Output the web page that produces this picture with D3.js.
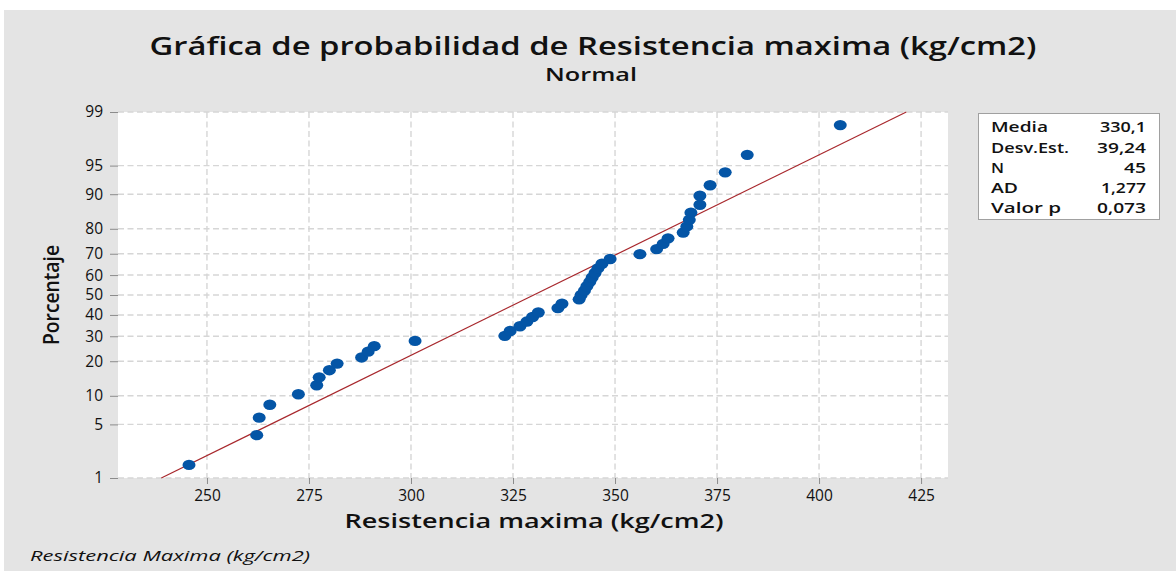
<!DOCTYPE html>
<html><head><meta charset="utf-8">
<script src="https://cdn.jsdelivr.net/npm/d3@7"></script>
<style>html,body{margin:0;padding:0;background:#fff;} svg{display:block;}</style>
</head><body>
<svg id="chart" width="1176" height="571"></svg>
<script>
// ---------- data ----------
const values = [245.6, 262.2, 262.8, 265.4, 272.4, 276.9, 277.5, 280.0, 281.9, 287.9,
  289.5, 291.0, 301.0, 323.0, 324.3, 326.7, 328.4, 329.8, 331.2, 336.0,
  337.0, 341.2, 341.7, 342.5, 343.1, 343.8, 344.4, 345.1, 345.8, 346.8,
  348.8, 356.1, 360.2, 361.8, 363.0, 366.7, 367.6, 368.2, 368.6, 370.8,
  370.8, 373.3, 377.0, 382.4, 405.2];
const percents = [1.54, 3.74, 5.95, 8.15, 10.35, 12.56, 14.76, 16.96, 19.16, 21.37,
  23.57, 25.77, 27.97, 30.18, 32.38, 34.58, 36.78, 38.99, 41.19, 43.39,
  45.59, 47.80, 50.00, 52.20, 54.41, 56.61, 58.81, 61.01, 63.22, 65.42,
  67.62, 69.82, 72.03, 74.23, 76.43, 78.63, 80.84, 83.04, 85.24, 87.44,
  89.65, 91.85, 94.05, 96.26, 98.46];
const yTickPercents = [1, 5, 10, 20, 30, 40, 50, 60, 70, 80, 90, 95, 99];
const xTicks = [250, 275, 300, 325, 350, 375, 400, 425];
const xDomain = [228.2, 431.6];
const statLabels = ["Media", "Desv.Est.", "N", "AD", "Valor p"];
const statValues = ["330,1", "39,24", "45", "1,277", "0,073"];
const fitMean = 330.1, fitSD = 39.24;
const fitPercents = [1, 99];

// inverse standard normal CDF (Acklam)
function probit(p) {
  const a = [-3.969683028665376e+01, 2.209460984245205e+02, -2.759285104469687e+02, 1.383577518672690e+02, -3.066479806614716e+01, 2.506628277459239e+00];
  const b = [-5.447609879822406e+01, 1.615858368580409e+02, -1.556989798598866e+02, 6.680131188771972e+01, -1.328068155288572e+01];
  const c = [-7.784894002430293e-03, -3.223964580411365e-01, -2.400758277161838e+00, -2.549732539343734e+00, 4.374664141464968e+00, 2.938163982698783e+00];
  const d = [7.784695709041462e-03, 3.224671290700398e-01, 2.445134137142996e+00, 3.754408661907416e+00];
  const pl = 0.02425, ph = 1 - pl;
  let q, r;
  if (p < pl) { q = Math.sqrt(-2 * Math.log(p));
    return (((((c[0]*q+c[1])*q+c[2])*q+c[3])*q+c[4])*q+c[5]) / ((((d[0]*q+d[1])*q+d[2])*q+d[3])*q+1); }
  if (p > ph) { q = Math.sqrt(-2 * Math.log(1 - p));
    return -(((((c[0]*q+c[1])*q+c[2])*q+c[3])*q+c[4])*q+c[5]) / ((((d[0]*q+d[1])*q+d[2])*q+d[3])*q+1); }
  q = p - 0.5; r = q * q;
  return (((((a[0]*r+a[1])*r+a[2])*r+a[3])*r+a[4])*r+a[5])*q / (((((b[0]*r+b[1])*r+b[2])*r+b[3])*r+b[4])*r+1);
}

// ---------- layout ----------
const svg = d3.select("#chart");
const FONT = "'Open Sans', 'Noto Sans', sans-serif";
const plot = { left: 118, right: 948, top: 112, bottom: 478 };

svg.append("rect").attr("x", 4).attr("y", 10).attr("width", 1172).attr("height", 561).attr("fill", "#e4e4e4");

const x = d3.scaleLinear().domain(xDomain).range([plot.left, plot.right]);
const zMax = probit(0.99);
const yz = d3.scaleLinear().domain([-zMax, zMax]).range([plot.bottom, plot.top]);
const y = p => yz(probit(p / 100));

svg.append("rect").attr("x", plot.left).attr("y", plot.top)
  .attr("width", plot.right - plot.left).attr("height", plot.bottom - plot.top).attr("fill", "#ffffff");

// grid
const grid = svg.append("g").attr("stroke", "#d6d6d6").attr("stroke-width", 1.4).attr("stroke-dasharray", "6,3.5");
grid.selectAll("line.h").data(yTickPercents).join("line")
  .attr("x1", plot.left).attr("x2", plot.right).attr("y1", d => y(d)).attr("y2", d => y(d));
grid.selectAll("line.v").data(xTicks).join("line").attr("class", "v")
  .attr("x1", d => x(d)).attr("x2", d => x(d)).attr("y1", plot.top).attr("y2", plot.bottom);

// axes
const xAxis = svg.append("g").attr("transform", `translate(0,${plot.bottom})`)
  .call(d3.axisBottom(x).tickValues(xTicks).tickSize(6).tickPadding(6));
const yAxis = svg.append("g").attr("transform", `translate(${plot.left},0)`)
  .call(d3.axisLeft(yz).tickValues(yTickPercents.map(p => probit(p / 100)))
    .tickFormat((d, i) => yTickPercents[i]).tickSize(8).tickPadding(7));
[xAxis, yAxis].forEach(a => {
  a.select(".domain").remove();
  a.selectAll(".tick line").attr("stroke", "#8c8c8c");
  a.selectAll(".tick text").attr("fill", "#111").style("font-family", FONT)
    .style("font-size", "15.5px").style("font-weight", 500);
});

// fitted line
const fitLine = fitPercents.map(p => ({ v: fitMean + fitSD * probit(p / 100), p }));
svg.append("path").datum(fitLine)
  .attr("d", d3.line().x(d => x(d.v)).y(d => y(d.p)))
  .attr("stroke", "#a8282d").attr("stroke-width", 1.2).attr("fill", "none");

// points
svg.append("g").selectAll("ellipse").data(values).join("ellipse")
  .attr("cx", d => x(d)).attr("cy", (d, i) => y(percents[i]))
  .attr("rx", 6.5).attr("ry", 5.2).attr("fill", "#0455a6");

// texts
function txt(str, px, py, size, len, opts = {}) {
  const t = svg.append("text").attr("x", px).attr("y", py)
    .attr("text-anchor", opts.anchor || "middle")
    .attr("fill", "#111").style("font-family", FONT).style("font-size", size + "px")
    .style("font-weight", opts.weight || 600).text(str);
  if (opts.italic) t.style("font-style", "italic");
  if (len) t.attr("textLength", len).attr("lengthAdjust", "spacingAndGlyphs");
  if (opts.rotate) t.attr("transform", `rotate(-90,${px},${py})`);
  return t;
}
txt("Gráfica de probabilidad de Resistencia maxima (kg/cm2)", 593, 55, 26, 887);
txt("Normal", 591, 81, 18, 92);
txt("Resistencia maxima (kg/cm2)", 534, 528, 20, 379);
txt("Porcentaje", 59, 295, 21, 100, { rotate: true });
txt("Resistencia Maxima (kg/cm2)", 30, 561, 14, 280, { anchor: "start", italic: true, weight: 400 });

// stats box
svg.append("rect").attr("x", 978.5).attr("y", 113.5).attr("width", 181).attr("height", 106)
  .attr("fill", "#fff").attr("stroke", "#a0a0a0").attr("stroke-width", 1);
const rowY = [132, 153, 173, 193, 212.5];
const labLen = [57, 78, 13, 27, 70];
const valLen = [46, 49, 22, 45, 49];
statLabels.forEach((s, i) => txt(s, 991, rowY[i], 14, labLen[i], { anchor: "start" }));
statValues.forEach((s, i) => txt(s, 1146, rowY[i], 14, valLen[i], { anchor: "end" }));
</script>
</body></html>
